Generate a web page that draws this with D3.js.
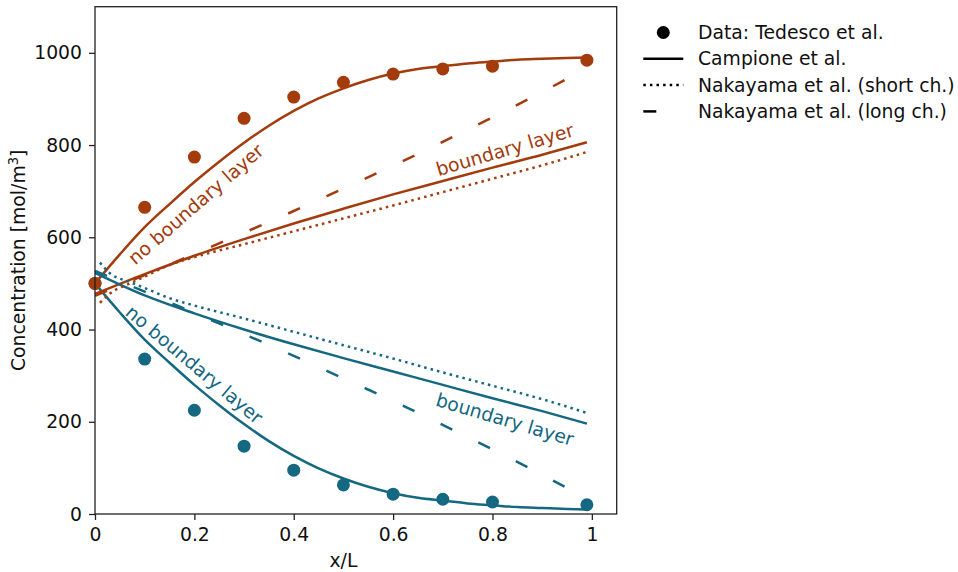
<!DOCTYPE html>
<html><head><meta charset="utf-8">
<script src="https://cdn.jsdelivr.net/npm/d3@7"></script>
<style>body{margin:0;background:#fff}svg{display:block}text{font-family:"DejaVu Sans",sans-serif}</style>
</head><body><svg id="c" width="958" height="572"></svg>
<script>
// ---- data ----
const dataX = [0, 0.1, 0.2, 0.3, 0.4, 0.5, 0.6, 0.7, 0.8, 0.99];
const dataConc = [500, 665, 774, 858, 904, 936, 954, 965, 971, 984];
const dataDil = [500, 336, 225, 147, 95, 63, 43, 32, 26, 20];

const noBLX = [0, 0.05, 0.1, 0.15, 0.2, 0.25, 0.3, 0.35, 0.4, 0.45, 0.5, 0.55, 0.6, 0.65, 0.7, 0.75, 0.8, 0.85, 0.9, 0.95, 0.99];
const noBLConc = [500, 563, 622, 672, 720, 764, 805, 842, 874, 901, 923, 941, 955, 965, 971, 977, 981, 985, 987, 989, 990];
const noBLDil = [500, 437, 378, 328, 280, 236, 195, 158, 126, 99, 77, 59, 45, 35, 29, 23, 19, 15, 13, 11, 10];

const blX = [0, 0.1, 0.2, 0.3, 0.4, 0.5, 0.6, 0.7, 0.8, 0.9, 0.99];
const blConc = [477, 520, 560, 596, 630, 662, 693, 722, 751, 779, 806];
const blDil = [523, 474, 435, 400, 368, 338, 309, 280, 251, 223, 196];

const shortX = [0.01, 0.03, 0.07, 0.1, 0.15, 0.2, 0.3, 0.4, 0.5, 0.6, 0.7, 0.8, 0.9, 0.99];
const shortConc = [458, 478, 500, 515, 540, 557, 585, 613, 641, 669, 698, 727, 756, 785];
const shortDil = [545, 522, 503, 490, 468, 452, 424, 395, 366, 337, 307, 278, 249, 219];

const longX = [0, 0.1, 0.2, 0.3, 0.4, 0.5, 0.6, 0.7, 0.8, 0.9, 0.99];
const longConc = [473, 518, 564, 610, 657, 706, 755, 807, 860, 915, 967];
const longDil = [527, 482, 436, 390, 343, 294, 245, 193, 140, 85, 33];

const xTicks = [0, 0.2, 0.4, 0.6, 0.8, 1];
const yTicks = [0, 200, 400, 600, 800, 1000];
const legendLabels = ["Data: Tedesco et al.", "Campione et al.", "Nakayama et al. (short ch.)", "Nakayama et al. (long ch.)"];

const orange = "#a33b0c", teal = "#156882";

// ---- chart ----
const svg = d3.select("#c");
const L = 95, R = 616.7, T = 6.7, B = 514;
const x = d3.scaleLinear().domain([0, 1.05]).range([L, R]);
const y = d3.scaleLinear().domain([0, 1100]).range([B, T]);
const FS = 18.8;

const line = d3.line().x(d => x(d[0])).y(d => y(d[1])).curve(d3.curveMonotoneX);
const zip = (a, b) => a.map((v, i) => [v, b[i]]);

const series = [
  {xs: noBLX, ys: noBLConc, c: orange, dash: null},
  {xs: noBLX, ys: noBLDil, c: teal, dash: null},
  {xs: blX, ys: blConc, c: orange, dash: null},
  {xs: blX, ys: blDil, c: teal, dash: null},
  {xs: shortX, ys: shortConc, c: orange, dash: "2.5,4.1"},
  {xs: shortX, ys: shortDil, c: teal, dash: "2.5,4.1"},
  {xs: longX, ys: longConc, c: orange, dash: "13,29"},
  {xs: longX, ys: longDil, c: teal, dash: "13,29"}
];
svg.append("g").selectAll("path").data(series).join("path")
  .attr("d", s => line(zip(s.xs, s.ys)))
  .attr("fill", "none").attr("stroke", s => s.c).attr("stroke-width", 2.5)
  .attr("stroke-dasharray", s => s.dash);

svg.append("g").selectAll("circle").data(zip(dataX, dataDil)).join("circle")
  .attr("cx", d => x(d[0])).attr("cy", d => y(d[1])).attr("r", 6.5).attr("fill", teal);
svg.append("g").selectAll("circle").data(zip(dataX, dataConc)).join("circle")
  .attr("cx", d => x(d[0])).attr("cy", d => y(d[1])).attr("r", 6.5).attr("fill", orange);

// line labels
const labels = [
  {t: "no boundary layer", px: 0.203, py: 672, a: -41, c: orange},
  {t: "boundary layer", px: 0.825, py: 790, a: -16.5, c: orange},
  {t: "no boundary layer", px: 0.2, py: 324, a: 40, c: teal},
  {t: "boundary layer", px: 0.825, py: 205, a: 16.5, c: teal}
];
svg.append("g").selectAll("text").data(labels).join("text")
  .attr("transform", d => `translate(${x(d.px)},${y(d.py)}) rotate(${d.a})`)
  .attr("text-anchor", "middle").attr("dy", "0.35em")
  .attr("font-size", FS).attr("fill", d => d.c).text(d => d.t);

// axes
const fmt = d => d === 0 ? "0" : d === 1 ? "1" : d3.format(".1f")(d);
const gx = svg.append("g").attr("transform", `translate(0,${B})`)
  .call(d3.axisBottom(x).tickValues(xTicks).tickFormat(fmt).tickSize(6).tickPadding(8));
const gy = svg.append("g").attr("transform", `translate(${L},0)`)
  .call(d3.axisLeft(y).tickValues(yTicks).tickFormat(d3.format("d")).tickSize(6).tickPadding(7));
[gx, gy].forEach(g => {
  g.select(".domain").remove();
  g.selectAll("line").attr("stroke", "#222").attr("stroke-width", 1.3);
  g.selectAll("text").attr("font-size", FS).attr("fill", "#111").style("font-family", "DejaVu Sans");
});
svg.append("rect").attr("x", L).attr("y", T).attr("width", R - L).attr("height", B - T)
  .attr("fill", "none").attr("stroke", "#222").attr("stroke-width", 1.3);

svg.append("text").attr("x", x(0.5)).attr("y", 567).attr("text-anchor", "middle")
  .attr("font-size", FS).attr("fill", "#111").text("x/L");
const yl = svg.append("text").attr("transform", `translate(25,${(T + B) / 2}) rotate(-90)`)
  .attr("text-anchor", "middle").attr("font-size", FS).attr("fill", "#111");
yl.append("tspan").text("Concentration [mol/m");
yl.append("tspan").attr("dy", -7).attr("font-size", FS * 0.7).text("3");
yl.append("tspan").attr("dy", 7).text("]");

// legend
const lg = svg.append("g");
const rowY = i => 32.5 + i * 26.3;
lg.append("circle").attr("cx", 663.3).attr("cy", rowY(0)).attr("r", 6.5).attr("fill", "#000");
const legDash = [null, null, "2.5,4.1", "13,29"];
[1, 2, 3].forEach(i => {
  lg.append("line").attr("x1", 643.3).attr("x2", 683.3).attr("y1", rowY(i)).attr("y2", rowY(i))
    .attr("stroke", "#000").attr("stroke-width", 2.5).attr("stroke-dasharray", legDash[i]);
});
lg.selectAll("text").data(legendLabels).join("text")
  .attr("x", 698).attr("y", (d, i) => rowY(i)).attr("dy", "0.35em")
  .attr("font-size", FS).attr("fill", "#111").text(d => d);
</script></body></html>
